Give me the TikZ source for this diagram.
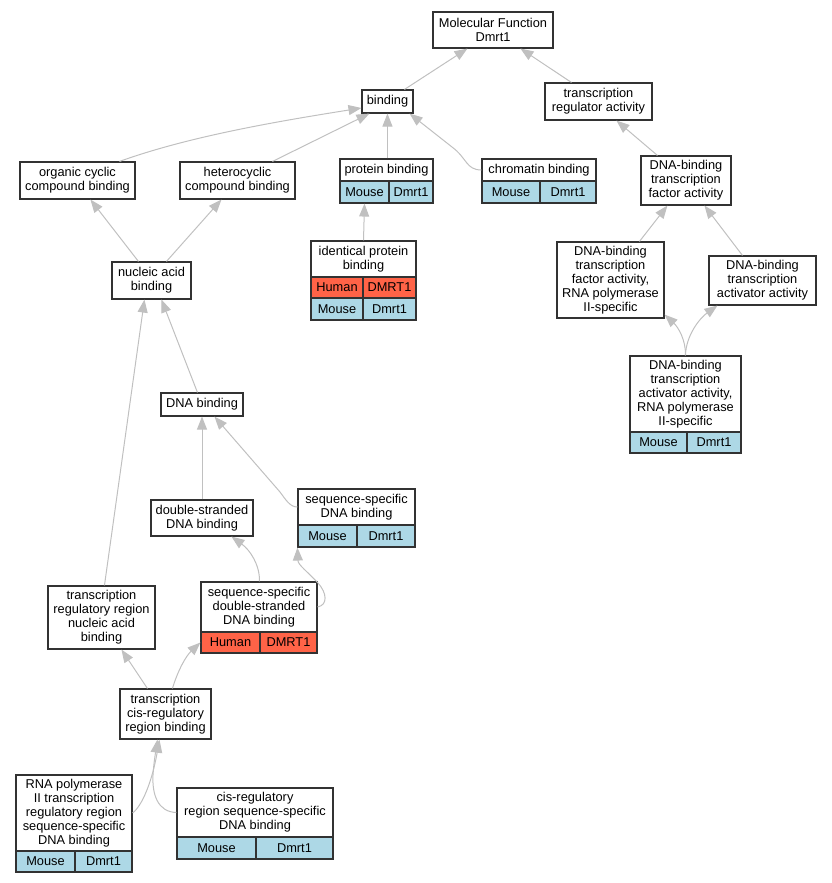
\documentclass[tikz,border=0pt]{standalone}
\usepackage{fontspec}
\setmainfont{Liberation Sans}
\usetikzlibrary{calc,arrows.meta}
\definecolor{edgegray}{RGB}{192,192,192}
\definecolor{boxline}{RGB}{50,50,50}
\definecolor{mouseblue}{RGB}{173,216,230}
\definecolor{humanred}{RGB}{255,99,71}
\tikzset{
  gobox/.style={draw=boxline, line width=1.1pt, fill=white, inner sep=0pt, align=center,
    font=\fontsize{12.8}{14}\selectfont},
  mousecell/.style={gobox, fill=mouseblue},
  humancell/.style={gobox, fill=humanred},
  isa/.style={draw=edgegray, line width=1pt, -{Triangle[length=13pt,width=10pt]}},
}
\begin{document}
\begin{tikzpicture}[x=1pt,y=-1pt]
\useasboundingbox (0,0) rectangle (832,883);
% plain boxes
\node[gobox, minimum width=120, minimum height=36] (mf) at (493,30) {Molecular Function\\Dmrt1};
\node[gobox, minimum width=51, minimum height=23] (binding) at (387.5,101.5) {binding};
\node[gobox, minimum width=107, minimum height=37] (trr) at (598.5,101.5) {transcription\\regulator activity};
\node[gobox, minimum width=115, minimum height=37] (occb) at (77.5,180.5) {organic cyclic\\compound binding};
\node[gobox, minimum width=115, minimum height=37] (hccb) at (237.5,180.5) {heterocyclic\\compound binding};
\node[gobox, minimum width=90, minimum height=49] (dbtf) at (686,180.5) {DNA-binding\\transcription\\factor activity};
\node[gobox, minimum width=79, minimum height=37] (nab) at (151.5,280.5) {nucleic acid\\binding};
\node[gobox, minimum width=107, minimum height=76] (dbtf2) at (610.5,280) {DNA-binding\\transcription\\factor activity,\\RNA polymerase\\II-specific};
\node[gobox, minimum width=107, minimum height=49] (dbta) at (762.5,280.5) {DNA-binding\\transcription\\activator activity};
\node[gobox, minimum width=82, minimum height=23] (dnab) at (202,404.5) {DNA binding};
\node[gobox, minimum width=102, minimum height=36] (dsdb) at (202,518) {double-stranded\\DNA binding};
\node[gobox, minimum width=107, minimum height=63] (trrnab) at (101.5,617.5) {transcription\\regulatory region\\nucleic acid\\binding};
\node[gobox, minimum width=91, minimum height=50] (tcis) at (165.5,714) {transcription\\cis-regulatory\\region binding};
% table boxes
\node[gobox, minimum width=93, minimum height=22] (pb) at (386.5,170) {protein binding};
\node[mousecell, minimum width=49, minimum height=22] (pb-a) at (364.5,192) {Mouse};
\node[mousecell, minimum width=44, minimum height=22] (pb-b) at (411,192) {Dmrt1};
\node[gobox, minimum width=114, minimum height=22] (cb) at (539,170) {chromatin binding};
\node[mousecell, minimum width=58, minimum height=22] (cb-a) at (511,192) {Mouse};
\node[mousecell, minimum width=56, minimum height=22] (cb-b) at (568,192) {Dmrt1};
\node[gobox, minimum width=105, minimum height=36] (ipb) at (363.5,259) {identical protein\\binding};
\node[humancell, minimum width=52, minimum height=21] (ipb-a) at (337,287.5) {Human};
\node[humancell, minimum width=53, minimum height=21] (ipb-b) at (389.5,287.5) {DMRT1};
\node[mousecell, minimum width=52, minimum height=22] (ipb-c) at (337,309) {Mouse};
\node[mousecell, minimum width=53, minimum height=22] (ipb-d) at (389.5,309) {Dmrt1};
\node[gobox, minimum width=111, minimum height=76] (dbta2) at (685.5,394) {DNA-binding\\transcription\\activator activity,\\RNA polymerase\\II-specific};
\node[mousecell, minimum width=57, minimum height=21] (dbta2-a) at (658.5,442.5) {Mouse};
\node[mousecell, minimum width=54, minimum height=21] (dbta2-b) at (714,442.5) {Dmrt1};
\node[gobox, minimum width=117, minimum height=36] (ssdb) at (356.5,507) {sequence-specific\\DNA binding};
\node[mousecell, minimum width=59, minimum height=22] (ssdb-a) at (327.5,536) {Mouse};
\node[mousecell, minimum width=58, minimum height=22] (ssdb-b) at (386,536) {Dmrt1};
\node[gobox, minimum width=116, minimum height=50] (ssds) at (259,607) {sequence-specific\\double-stranded\\DNA binding};
\node[humancell, minimum width=59, minimum height=21] (ssds-a) at (230.5,642.5) {Human};
\node[humancell, minimum width=57, minimum height=21] (ssds-b) at (288.5,642.5) {DMRT1};
\node[gobox, minimum width=116, minimum height=76] (rnap) at (74,813) {RNA polymerase\\II transcription\\regulatory region\\sequence-specific\\DNA binding};
\node[mousecell, minimum width=59, minimum height=21] (rnap-a) at (45.5,861.5) {Mouse};
\node[mousecell, minimum width=57, minimum height=21] (rnap-b) at (103.5,861.5) {Dmrt1};
\node[gobox, minimum width=156, minimum height=49] (crssdb) at (255,812.5) {cis-regulatory\\region sequence-specific\\DNA binding};
\node[mousecell, minimum width=79, minimum height=22] (crssdb-a) at (216.5,848) {Mouse};
\node[mousecell, minimum width=77, minimum height=22] (crssdb-b) at (294.5,848) {Dmrt1};
% edges
\draw[isa] ($(binding.north west)+(43,0)$) -- ($(mf.south west)+(35,0)$);
\draw[isa] ($(trr.north west)+(27,0)$) -- ($(mf.south west)+(88,0)$);
\draw[isa] ($(occb.north west)+(100,0)$) .. controls (190,136) and (280,121) .. ($(binding.west)+(0,6.5)$);
\draw[isa] ($(hccb.north west)+(93,0)$) -- ($(binding.south west)+(8,0)$);
\draw[isa] ($(pb.north west)+(48,0)$) -- ($(binding.south west)+(26,0)$);
\draw[isa] (cb.west) .. controls (466,170) and (467,158) .. (452,147) -- ($(binding.south east)+(-4,0)$);
\draw[isa] (ipb.north) -- (pb-a.south);
\draw[isa] ($(nab.north west)+(27,0)$) -- ($(occb.south west)+(71,0)$);
\draw[isa] ($(nab.north west)+(55,0)$) -- ($(hccb.south west)+(42,0)$);
\draw[isa] ($(dnab.north west)+(37,0)$) -- ($(nab.south west)+(50,0)$);
\draw[isa] ($(trrnab.north west)+(57,0)$) -- ($(nab.south west)+(33,0)$);
\draw[isa] (dsdb.north) -- (dnab.south);
\draw[isa] (ssdb.west) .. controls (290,507) and (286,500) .. (280,492) -- ($(dnab.south west)+(54,0)$);
\draw[isa] ($(ssds.north west)+(59,0)$) .. controls (260,565) and (250,550) .. ($(dsdb.south west)+(81,0)$);
\draw[isa] (ssds.east) .. controls (328,605) and (327,593) .. (318,583) .. controls (308,572) and (298,565) .. (ssdb-a.south west);
\draw[isa] ($(tcis.north west)+(28,0)$) -- ($(trrnab.south west)+(74,0)$);
\draw[isa] ($(tcis.north west)+(53,0)$) .. controls (178,670) and (186,656) .. (ssds-a.west);
\draw[isa] (rnap.east) .. controls (142,806) and (152,782) .. ($(tcis.south west)+(40,0)$);
\draw[isa] (crssdb.west) .. controls (158,812) and (152,795) .. (153,775) .. controls (154,760) and (156,750) .. ($(tcis.south west)+(38,0)$);
\draw[isa] ($(dbtf.north west)+(17,0)$) -- ($(trr.south west)+(72,0)$);
\draw[isa] ($(dbtf2.north west)+(83,0)$) -- ($(dbtf.south west)+(27,0)$);
\draw[isa] ($(dbta.north west)+(34,0)$) -- ($(dbtf.south west)+(64,0)$);
\draw[isa] ($(dbta2.north west)+(56,0)$) .. controls (686,340) and (678,327) .. ($(dbtf2.south east)+(0,-4)$);
\draw[isa] ($(dbta2.north west)+(56,0)$) .. controls (686,335) and (700,318) .. ($(dbta.south west)+(9,0)$);
\end{tikzpicture}
\end{document}
